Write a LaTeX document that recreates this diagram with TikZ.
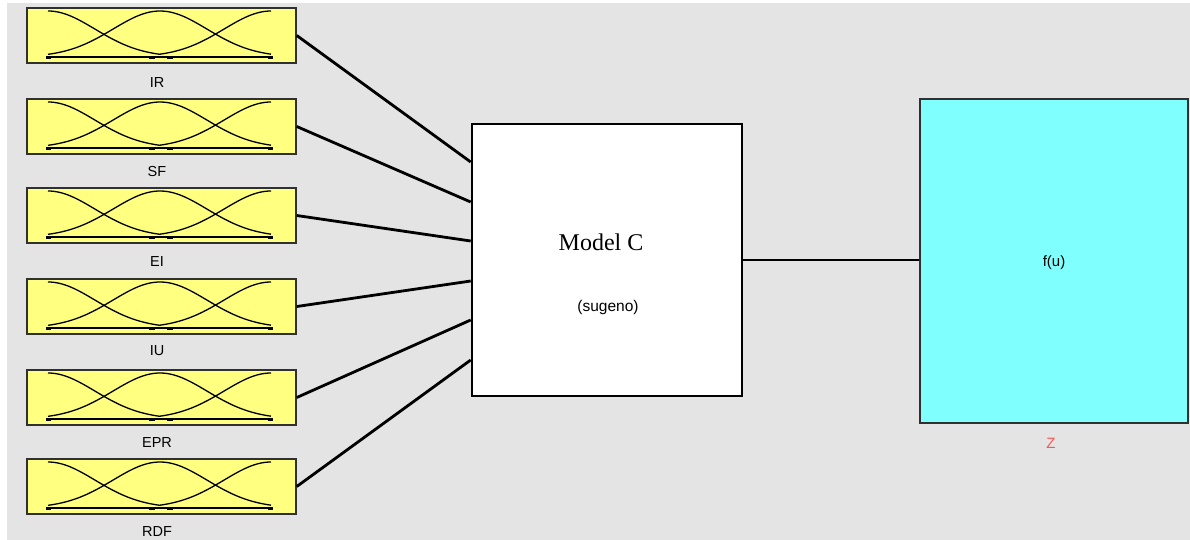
\documentclass[tikz,border=0pt]{standalone}
\usepackage{fontspec}
\setmainfont{Liberation Sans}
\newfontfamily\serifmodel{Liberation Serif}
\usetikzlibrary{calc}
\definecolor{bggray}{HTML}{E4E4E4}
\definecolor{inyellow}{HTML}{FFFF80}
\definecolor{outcyan}{HTML}{80FFFF}
\definecolor{boxedge}{HTML}{303030}
\definecolor{zred}{HTML}{FF5555}
\tikzset{
  inbox/.style={draw=boxedge, line width=1.5pt, fill=inyellow, minimum width=269pt, minimum height=55pt, inner sep=0pt},
  modelbox/.style={draw=black, line width=2.6pt, fill=white, minimum width=270pt, minimum height=272pt, inner sep=0pt},
  outbox/.style={draw=boxedge, line width=1.7pt, fill=outcyan, minimum width=268pt, minimum height=324pt, inner sep=0pt},
  lbl/.style={font=\fontsize{14.5}{16}\selectfont, inner sep=0pt},
  mfcurve/.style={draw=black, line width=1.3pt},
  wire/.style={draw=black, line width=2.8pt}
}
\begin{document}
\begin{tikzpicture}[x=1pt,y=-1pt]
\useasboundingbox (0,0) rectangle (1190,539);
\fill[bggray] (7,3) rectangle (1190,545);
% input boxes
\foreach \n/\yt/\ly in {IR/8/83, SF/99/172, EI/188/262, IU/279/351, EPR/370/443, RDF/459/531}{
  \node[inbox] (\n) at (161.5,{\yt+27.5}) {};
  \node[lbl] (\n lbl) at (157,\ly) {\n};
  % membership functions
  \draw[mfcurve] plot[domain=48:160, samples=40] (\x,{\yt+49-46*exp(-(((\x-48)/100)^2)/0.4418)});
  \draw[mfcurve] plot[domain=48:271, samples=70] (\x,{\yt+49-46*exp(-(((\x-160)/100)^2)/0.4418)});
  \draw[mfcurve] plot[domain=160:271, samples=40] (\x,{\yt+49-46*exp(-(((\x-271)/100)^2)/0.4418)});
  \draw[mfcurve] (48,{\yt+49}) -- (271,{\yt+49});
  \fill[black] (46,{\yt+47.5}) rectangle (51,{\yt+50.5});
  \fill[black] (268,{\yt+47.5}) rectangle (273,{\yt+50.5});
  \fill[black] (149,{\yt+47.5}) rectangle (155,{\yt+50.5});
  \fill[black] (167,{\yt+47.5}) rectangle (173,{\yt+50.5});
}
% model box
\node[modelbox] (M) at (607,260) {};
\node[font=\serifmodel\fontsize{24}{26}\selectfont, inner sep=0pt] (Mname) at (601,242) {Model C};
\node[lbl, font=\fontsize{15.5}{17}\selectfont] (Mtype) at (608,307) {(sugeno)};
% output box
\node[outbox] (Z) at (1054,261) {};
\node[lbl, font=\fontsize{15}{17}\selectfont] (Zf) at (1054,263) {f(u)};
\node[lbl, font=\fontsize{15}{17}\selectfont, text=zred] (Zlbl) at (1051,443) {Z};
% connectors
\draw[wire] (IR.east) -- ([yshift=98pt]M.west);
\draw[wire] (SF.east) -- ([yshift=58pt]M.west);
\draw[wire] (EI.east) -- ([yshift=19pt]M.west);
\draw[wire] (IU.east) -- ([yshift=-21pt]M.west);
\draw[wire] (EPR.east) -- ([yshift=-60pt]M.west);
\draw[wire] (RDF.east) -- ([yshift=-100pt]M.west);
\draw[wire] (M.east) -- (M.east -| Z.west);
\end{tikzpicture}
\end{document}
